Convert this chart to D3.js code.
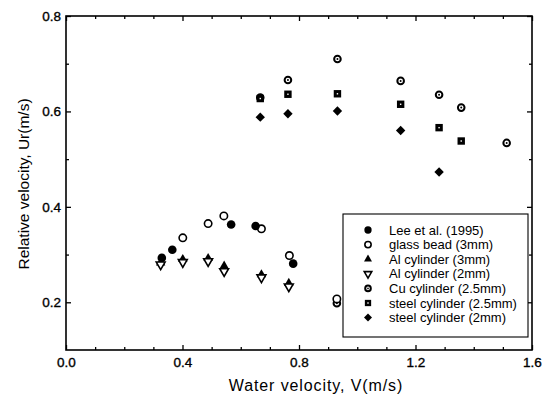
<!DOCTYPE html>
<html><head><meta charset="utf-8">
<script src="https://d3js.org/d3.v7.min.js"></script>
<style>body{margin:0;background:#fff}svg{display:block}text{font-family:"Liberation Sans",Arial,sans-serif;fill:#000}</style>
</head><body><svg id="c" width="548" height="396"></svg>
<script>
// ---- data ----
const leeX   = [0.329, 0.365, 0.567, 0.651, 0.780];
const leeY   = [0.293, 0.310, 0.363, 0.360, 0.281];
const glassX = [0.401, 0.488, 0.542, 0.671, 0.767, 0.930];
const glassY = [0.335, 0.365, 0.381, 0.354, 0.298, 0.207];
const al3X   = [0.325, 0.401, 0.488, 0.543, 0.671, 0.765];
const al3Y   = [0.283, 0.290, 0.292, 0.276, 0.258, 0.240];
const al2X   = [0.325, 0.401, 0.488, 0.543, 0.671, 0.765];
const al2Y   = [0.279, 0.284, 0.286, 0.265, 0.252, 0.233];
const cuX    = [0.667, 0.762, 0.932, 1.149, 1.281, 1.357, 1.513, 0.930];
const cuY    = [0.629, 0.666, 0.710, 0.664, 0.635, 0.608, 0.534, 0.198];
const st25X  = [0.667, 0.762, 0.932, 1.149, 1.281, 1.357];
const st25Y  = [0.627, 0.636, 0.637, 0.615, 0.566, 0.538];
const st2X   = [0.667, 0.762, 0.932, 1.149, 1.281];
const st2Y   = [0.588, 0.595, 0.601, 0.560, 0.473];
const seriesNames = ["Lee et al. (1995)", "glass bead (3mm)", "Al cylinder (3mm)", "Al cylinder (2mm)",
                     "Cu cylinder (2.5mm)", "steel cylinder (2.5mm)", "steel cylinder (2mm)"];
const xTicks = [0.0, 0.4, 0.8, 1.2, 1.6];
const yTicks = [0.2, 0.4, 0.6, 0.8];
const xMinor = [0.1,0.2,0.3,0.5,0.6,0.7,0.9,1.0,1.1,1.3,1.4,1.5];
const yMinor = [0.3,0.5,0.7];
const xTitle = "Water velocity, V(m/s)";
const yTitle = "Relative velocity, Ur(m/s)";

// ---- layout ----
const L = 66, R = 532, T = 16, B = 350;
const svg = d3.select("#c");
const x = d3.scaleLinear().domain([0, 1.6]).range([L, R]);
const y = d3.scaleLinear().domain([0.1, 0.8]).range([B, T]);

function axisGen(gen, scale, ticks, size, fmt, pad) {
  return gen(scale).tickValues(ticks).tickSizeInner(size).tickSizeOuter(0).tickPadding(pad).tickFormat(fmt);
}
const f1 = d3.format(".1f");
const none = () => "";
function addAxis(g, a) {
  g.call(a);
  g.select(".domain").remove();
  g.selectAll("line").attr("stroke", "#000").attr("stroke-width", 1.3);
  g.selectAll("text").style("font-size", "13.5px").style("font-family", '"Liberation Sans",Arial,sans-serif')
    .attr("stroke", "#000").attr("stroke-width", 0.35);
}
// bottom
addAxis(svg.append("g").attr("transform", `translate(0,${B})`), axisGen(d3.axisBottom, x, xTicks, -5, f1, 7));
addAxis(svg.append("g").attr("transform", `translate(0,${B})`), axisGen(d3.axisBottom, x, xMinor, -3, none, 7));
// top
addAxis(svg.append("g").attr("transform", `translate(0,${T})`), axisGen(d3.axisTop, x, xTicks, -5, none, 8));
addAxis(svg.append("g").attr("transform", `translate(0,${T})`), axisGen(d3.axisTop, x, xMinor, -3, none, 8));
// left
addAxis(svg.append("g").attr("transform", `translate(${L},0)`), axisGen(d3.axisLeft, y, yTicks, -5, f1, 5));
addAxis(svg.append("g").attr("transform", `translate(${L},0)`), axisGen(d3.axisLeft, y, yMinor, -3, none, 5));
// right
addAxis(svg.append("g").attr("transform", `translate(${R},0)`), axisGen(d3.axisRight, y, yTicks, -5, none, 5));
addAxis(svg.append("g").attr("transform", `translate(${R},0)`), axisGen(d3.axisRight, y, yMinor, -3, none, 5));

svg.append("rect").attr("x", L).attr("y", T).attr("width", R - L).attr("height", B - T)
  .attr("fill", "none").attr("stroke", "#000").attr("stroke-width", 1.6);

// titles
svg.append("text").attr("x", 316).attr("y", 391).attr("text-anchor", "middle")
  .style("font-size", "16px").style("letter-spacing", "0.9px").text(xTitle);
svg.append("text").attr("transform", "translate(29,184) rotate(-90)").attr("text-anchor", "middle")
  .style("font-size", "15.5px").text(yTitle);

// ---- markers ----
const sym = (type, size) => d3.symbol().type(type).size(size)();
function marker(g, kind, s) {
  s = s || 1;
  if (kind === 0) {
    g.append("circle").attr("r", 4.3 * s).attr("fill", "#000");
  } else if (kind === 1) {
    g.append("circle").attr("r", 3.7 * s).attr("fill", "#fff").attr("stroke", "#000").attr("stroke-width", 1.6);
  } else if (kind === 2) {
    g.append("path").attr("d", sym(d3.symbolTriangle, 38 * s * s)).attr("fill", "#000");
  } else if (kind === 3) {
    g.append("path").attr("d", sym(d3.symbolTriangle, 34 * s * s)).attr("transform", "rotate(180)")
      .attr("fill", "#fff").attr("stroke", "#000").attr("stroke-width", 1.6);
  } else if (kind === 4) {
    g.append("circle").attr("r", 3.3 * s).attr("fill", "#fff").attr("stroke", "#000").attr("stroke-width", 2);
    g.append("circle").attr("r", 1.0 * s).attr("fill", "#000");
  } else if (kind === 5) {
    g.append("rect").attr("x", -3.7 * s).attr("y", -3.7 * s).attr("width", 7.4 * s).attr("height", 7.4 * s).attr("fill", "#000");
    g.append("rect").attr("x", -0.7).attr("y", -0.7).attr("width", 1.4).attr("height", 1.4).attr("fill", "#fff");
  } else if (kind === 6) {
    g.append("path").attr("d", sym(d3.symbolSquare, 44 * s * s)).attr("transform", "rotate(45)").attr("fill", "#000");
  }
}
const series = [
  [leeX, leeY], [glassX, glassY], [al3X, al3Y], [al2X, al2Y],
  [cuX, cuY], [st25X, st25Y], [st2X, st2Y]
];
const drawOrder = [4, 5, 6, 1, 0, 2, 3];
drawOrder.forEach(k => {
  const [xs, ys] = series[k];
  xs.forEach((v, i) => {
    const g = svg.append("g").attr("transform", `translate(${x(v)},${y(ys[i])})`);
    marker(g, k, 1);
  });
});

// ---- legend ----
const leg = svg.append("g");
leg.append("rect").attr("x", 343).attr("y", 214).attr("width", 185).attr("height", 123)
  .attr("fill", "#fff").attr("stroke", "#000").attr("stroke-width", 1.1);
seriesNames.forEach((name, i) => {
  const yy = 230 + i * 14.6;
  const g = leg.append("g").attr("transform", `translate(368,${yy})`);
  marker(g, i, 0.85);
  leg.append("text").attr("x", 389).attr("y", yy).attr("dy", "0.35em").style("font-size", "13px").text(name);
});
</script></body></html>
